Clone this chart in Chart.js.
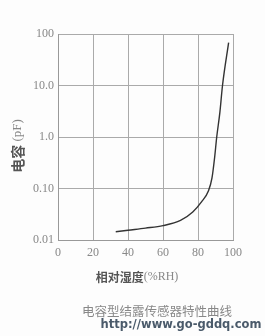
<!DOCTYPE html>
<html>
<head>
<meta charset="utf-8">
<script src="https://cdn.jsdelivr.net/npm/chart.js@4"></script>
<style>
  html, body { margin: 0; padding: 0; background: #fdfdfd; }
  #wrap { width: 265px; height: 336px; position: relative; }
</style>
</head>
<body>
<div id="wrap"><canvas id="chart" width="265" height="336"></canvas></div>
<script>
// --- Data ---
const humidity = [33, 40, 50, 60, 70, 77, 82, 86, 88, 89.5, 90.7, 92.5, 94, 97.5];
const capacitance = [0.0145, 0.0155, 0.017, 0.019, 0.024, 0.035, 0.055, 0.09, 0.16, 0.4, 1.0, 3.0, 10, 68];
const xTicks = [0, 20, 40, 60, 80, 100];
const yTicks = [0.01, 0.1, 1, 10, 100];
const yTickLabels = ["0.01", "0.10", "1.0", "10.0", "100"];

const points = humidity.map((h, i) => ({ x: h, y: capacitance[i] }));

// --- Extra text (titles, caption) ---
const textPlugin = {
  id: "texts",
  afterDraw(chart) {
    const ctx = chart.ctx;
    ctx.save();
    // y title
    ctx.translate(18, 146);
    ctx.rotate(-Math.PI / 2);
    ctx.textBaseline = "middle";
    ctx.textAlign = "left";
    const a = "电容";
    const b = " (pF)";
    ctx.font = "bold 14px 'Noto Sans CJK SC'";
    const wa = ctx.measureText(a).width;
    ctx.font = "13px 'Liberation Serif'";
    const wb = ctx.measureText(b).width;
    ctx.font = "bold 14px 'Noto Sans CJK SC'";
    ctx.fillStyle = "#555";
    ctx.fillText(a, -(wa + wb) / 2, 0);
    ctx.font = "13px 'Liberation Serif'";
    ctx.fillStyle = "#888";
    ctx.fillText(b, -(wa + wb) / 2 + wa, 0);
    ctx.restore();

    ctx.save();
    // x title
    ctx.textBaseline = "middle";
    ctx.textAlign = "left";
    ctx.font = "bold 12px 'Noto Sans CJK SC'";
    ctx.fillStyle = "#555";
    const c = "相对湿度";
    const d = "(%RH)";
    const wc = ctx.measureText(c).width;
    ctx.font = "12px 'Liberation Serif'";
    const wd = ctx.measureText(d).width;
    let sx = 137 - (wc + wd) / 2;
    ctx.font = "bold 12px 'Noto Sans CJK SC'";
    ctx.fillText(c, sx, 277);
    ctx.font = "12px 'Liberation Serif'";
    ctx.fillStyle = "#888";
    ctx.fillText(d, sx + wc, 277);

    // caption
    ctx.textAlign = "center";
    ctx.font = "12.5px 'Noto Sans CJK SC'";
    ctx.fillStyle = "#888";
    ctx.fillText("电容型结露传感器特性曲线", 157, 311);
    ctx.font = "bold 11.5px 'DejaVu Sans'";
    ctx.fillStyle = "#4a5a6a";
    ctx.fillText("http://www.go-gddq.com", 181, 325);
    ctx.restore();
  }
};

// --- Chart ---
const ctx = document.getElementById("chart").getContext("2d");
new Chart(ctx, {
  type: "line",
  data: {
    datasets: [{
      data: points,
      borderColor: "#333",
      borderWidth: 1.4,
      pointRadius: 0,
      fill: false,
      cubicInterpolationMode: "monotone"
    }]
  },
  options: {
    responsive: false,
    animation: false,
    layout: { padding: { left: 0, top: 34, right: 32, bottom: 0 } },
    plugins: { legend: { display: false }, tooltip: { enabled: false } },
    scales: {
      x: {
        type: "linear",
        min: 0,
        max: 100,
        afterBuildTicks(axis) { axis.ticks = xTicks.map(v => ({ value: v })); },
        afterFit(axis) { axis.height = 96; },
        grid: { color: "#aaa", lineWidth: 1, drawTicks: false },
        border: { color: "#999" },
        ticks: {
          padding: 6,
          color: "#888",
          font: { family: "'Liberation Serif'", size: 12 },
          maxRotation: 0
        }
      },
      y: {
        type: "logarithmic",
        min: 0.01,
        max: 100,
        afterBuildTicks(axis) { axis.ticks = yTicks.map(v => ({ value: v })); },
        afterFit(axis) { axis.width = 58; },
        grid: { color: "#aaa", lineWidth: 1, drawTicks: false },
        border: { color: "#999" },
        ticks: {
          padding: 4,
          color: "#888",
          font: { family: "'Liberation Serif'", size: 12 },
          callback(value) {
            const i = yTicks.findIndex(t => Math.abs(t - value) / t < 1e-6);
            return i >= 0 ? yTickLabels[i] : "";
          }
        }
      }
    }
  },
  plugins: [textPlugin]
});
</script>
</body>
</html>
